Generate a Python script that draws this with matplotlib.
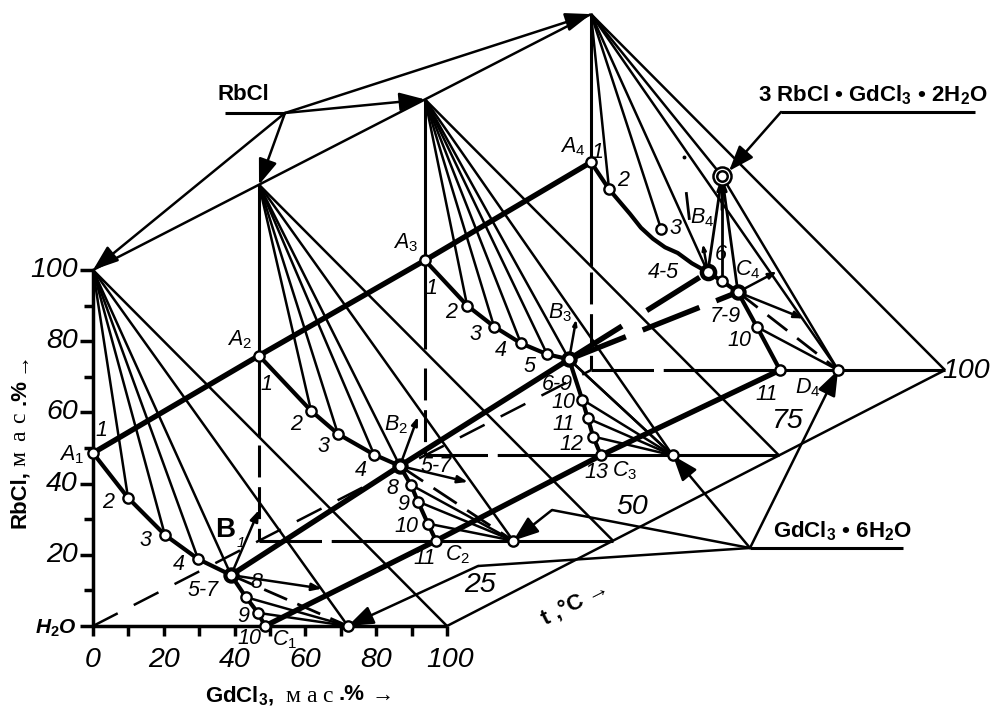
import matplotlib
matplotlib.use("Agg")
import matplotlib.pyplot as plt

plt.rcParams['font.family'] = ['Liberation Sans', 'DejaVu Sans']
plt.rcParams['mathtext.fontset'] = 'custom'
plt.rcParams['mathtext.rm'] = 'Liberation Sans'
plt.rcParams['mathtext.it'] = 'Liberation Sans:italic'
plt.rcParams['mathtext.bf'] = 'Liberation Sans:bold'
plt.rcParams['lines.scale_dashes'] = False

# ---- data: composition (GdCl3 %, RbCl %) per isotherm ----
iso_levels = [0, 1, 2, 3]
g1 = [0, 9.9, 20.3, 29.7, 39.0, 43.2, 46.6, 48.6]
r1 = [48.6, 36.0, 25.6, 18.8, 14.3, 8.1, 3.7, 0]
g2 = [0, 14.7, 22.3, 32.5, 39.8, 42.9, 44.9, 47.7, 50.0]
r2 = [52.0, 36.5, 30.0, 24.2, 21.0, 15.7, 11.0, 4.8, 0]
g3 = [0, 11.9, 19.5, 27.1, 34.5, 40.7, 44.4, 46.0, 47.5, 49.7]
r3 = [54.8, 42.1, 36.2, 31.5, 28.4, 27.0, 15.7, 10.4, 5.3, 0]
g4_curve = [0, 5.1, 11.0, 14.1, 17.5, 20.9, 24.5, 28.5, 33.0, 37.0, 41.5, 46.9, 53.4]
r4_curve = [58.4, 50.8, 43.9, 40.0, 36.9, 34.5, 32.9, 30.0, 27.5, 25.0, 21.9, 12.1, 0]
g4_marks = [0, 5.1, 19.8, 33.0, 37.0, 41.5, 46.9, 53.4]
r4_marks = [58.4, 50.8, 39.6, 27.5, 25.0, 21.9, 12.1, 0]
gd_salt = [72.0, 71.8, 70.0, 69.8]
double_salt_g, double_salt_r = 37.0, 54.5
gd_ticks = [0, 10, 20, 30, 40, 50, 60, 70, 80, 90, 100]
rb_ticks = [0, 10, 20, 30, 40, 50, 60, 70, 80, 90, 100]
gd_labels = ['0', '20', '40', '60', '80', '100']
rb_labels = ['20', '40', '60', '80', '100']
temp_labels = ['25', '50', '75']
# index of eutectic point B on each curve and of the tie-line groups
apex_ties = [[1, 2, 3, 4], [1, 2, 3, 4], [1, 2, 3, 4, 5]]
salt_ties = [[5, 6], [5, 6, 7], [5, 6, 7, 8]]
b_index = [4, 4, 5]
solid_until_r = [29.0, 29.8, 29.2]
dash_from_r = [27.0, 24.5, 27.5]


def P(g, r, k=0):
    return 93 + 3.54 * g + 166 * k, 626 - 3.56 * r - 85.3 * k


fig = plt.figure(figsize=(9.92, 7.09), dpi=100)
ax = fig.add_axes([0, 0, 1, 1])
ax.set_xlim(0, 992)
ax.set_ylim(709, 0)
ax.axis('off')

THIN, MID, THICK = 1.8, 3.0, 3.9


def line(a, b, lw=THIN, z=2, **kw):
    kw.setdefault('solid_capstyle', 'butt')
    kw.setdefault('dash_capstyle', 'butt')
    ax.plot([a[0], b[0]], [a[1], b[1]], color='k', lw=lw, zorder=z, **kw)


def arrow(a, b, size=22, lw=THIN, z=3):
    ax.annotate('', xy=b, xytext=a, zorder=z,
                arrowprops=dict(arrowstyle='-|>,head_length=0.6,head_width=0.22',
                                mutation_scale=size, lw=lw, color='k',
                                shrinkA=0, shrinkB=0))


def tx(x, y, s, size=15.5, style='italic', weight='normal', **kw):
    kw.setdefault('ha', 'center')
    kw.setdefault('va', 'center')
    ax.text(x, y, s, fontsize=size, style=style, weight=weight, zorder=8, **kw)


curves = [(g1, r1), (g2, r2), (g3, r3)]
DASH_H = (0, (45, 7, 80, 7))
DASH_V = (0, (23, 7))

# frames per isotherm
for k in iso_levels:
    apex, o, end = P(0, 100, k), P(0, 0, k), P(100, 0, k)
    salt = P(gd_salt[k], 0, k)
    line(apex, end)
    line(apex, salt)
    if k == 0:
        line(apex, o, lw=2.5)
        line(o, end, lw=2.5)
    else:
        i = k - 1
        line(apex, P(0, solid_until_r[i], k), lw=2.2)
        line(P(0, dash_from_r[i], k), o, lw=2.2, ls=DASH_V)
        right = [g2, g3, g4_curve][i][-1]
        line(o, P(right, 0, k), lw=2.2, ls=DASH_H)
        line(P(right, 0, k), end, lw=2.2)

# top line through the RbCl apexes, base line and temperature axis
line(P(0, 100, 3), P(0, 100, 0))
line(P(100, 0, 0), P(100, 0, 3))
line(P(0, 0, 0), P(0, 0, 3), lw=1.8, ls=(0, (20, 13)), z=1)

# tie lines, isotherms 1-3
for k, (g, r) in enumerate(curves):
    apex, salt = P(0, 100, k), P(gd_salt[k], 0, k)
    for i in apex_ties[k]:
        line(apex, P(g[i], r[i], k))
    for i in salt_ties[k]:
        line(P(g[i], r[i], k), salt)
    ax.plot(*zip(*[P(a, b, k) for a, b in zip(g, r)]), color='k', lw=MID,
            zorder=4, solid_joinstyle='round')

# eutectic links
line(P(g1[4], r1[4], 0), P(gd_salt[0], 0, 0), lw=2.0, ls=(0, (18, 8)))
line(P(g2[4], r2[4], 1), P(gd_salt[1], 0, 1), lw=2.0, ls=(0, (20, 9)))
line(P(g3[5], r3[5], 2), P(gd_salt[2], 0, 2))
arrow(P(g1[4], r1[4], 0), P(64.7, 10.5, 0), size=10, lw=1.8)
arrow(P(g2[4], r2[4], 1), P(59, 16.5, 1), size=10, lw=1.8)

# isotherm 4
apex4 = P(0, 100, 3)
salt4 = P(gd_salt[3], 0, 3)
ds = P(double_salt_g, double_salt_r, 3)
for i in [1, 2, 3]:
    line(apex4, P(g4_marks[i], r4_marks[i], 3))
line(apex4, ds)
line(ds, salt4)
for i in [3, 4, 5]:
    line(ds, P(g4_marks[i], r4_marks[i], 3), lw=2.0)
arrow(P(37, 45, 3), ds, size=14, lw=2.0)
line(P(g4_marks[6], r4_marks[6], 3), salt4)
arrow(P(g4_marks[5], r4_marks[5], 3), P(60, 14.5, 3), size=9, lw=1.8)
line(P(g4_marks[5], r4_marks[5], 3), salt4, lw=2.0, ls=(0, (18, 9)))
ax.plot(*zip(*[P(a, b, 3) for a, b in zip(g4_curve, r4_curve)]), color='k', lw=MID, zorder=4)
arrow(P(g4_marks[5], r4_marks[5], 3), P(52.5, 27.7, 3), size=8, lw=1.8)

# short arrows from B points (liquidus direction)
arrow(P(g1[4], r1[4], 0), P(46.9, 32.6, 0), size=11, lw=1.8)
arrow(P(g2[4], r2[4], 1), P(44.9, 34.8, 1), size=8, lw=1.8)
arrow(P(g3[5], r3[5], 2), P(42.7, 38.2, 2), size=5, lw=1.8)
arrow(P(g4_marks[3], r4_marks[3], 3), P(31.6, 35.4, 3), size=5, lw=1.8)
line(P(26.9, 50.0, 3), P(27.8, 42.2, 3), lw=2.0)
ax.plot(*P(26.3, 60.0, 3), 'o', color='k', ms=1.8, zorder=3)

# thick monovariant lines
Afour = [P(g1[0], r1[0], 0), P(g2[0], r2[0], 1), P(g3[0], r3[0], 2), P(g4_curve[0], r4_curve[0], 3)]
ax.plot(*zip(*Afour), color='k', lw=THICK, zorder=5, solid_capstyle='butt')
B3 = P(g3[5], r3[5], 2)
ax.plot(*zip(*[P(g1[4], r1[4], 0), P(g2[4], r2[4], 1), B3]), color='k', lw=THICK, zorder=5)
Cpts = [P(g1[7], r1[7], 0), P(g2[8], r2[8], 1), P(g3[9], r3[9], 2), P(g4_curve[-1], r4_curve[-1], 3)]
ax.plot(*zip(*Cpts), color='k', lw=THICK, zorder=5)
line(B3, P(g4_marks[3], r4_marks[3], 3), lw=THICK, z=5, ls=(0, (45, 21)))
line(B3, P(g4_marks[5], r4_marks[5], 3), lw=THICK, z=5, ls=(0, (44, 13)))

# markers
mk = dict(marker='o', mfc='w', mec='k', ls='none', zorder=7)
for k, (g, r) in enumerate(curves):
    pts = [P(a, b, k) for a, b in zip(g, r)]
    ax.plot(*zip(*pts), ms=7.4, mew=1.7, **mk)
    ax.plot(*pts[b_index[k]], ms=8.8, mew=3.0, **mk)
    ax.plot(*P(gd_salt[k], 0, k), ms=7.4, mew=1.7, **mk)
pts4 = [P(a, b, 3) for a, b in zip(g4_marks, r4_marks)]
ax.plot(*zip(*pts4), ms=7.4, mew=1.7, **mk)
ax.plot(*pts4[3], ms=9.5, mew=3.2, **mk)
ax.plot(*pts4[5], ms=8.8, mew=3.0, **mk)
ax.plot(*salt4, ms=7.4, mew=1.7, **mk)
ax.plot(*ds, ms=13, mew=1.8, **mk)
ax.plot(*ds, ms=7.5, mew=1.8, **mk)

# axis ticks and labels
for v in rb_ticks:
    x, y = P(0, v)
    line((x - (13 if v % 20 == 0 else 9), y), (x, y), lw=2.5)
for v in gd_ticks:
    x, y = P(v, 0)
    line((x, y), (x, y + 10), lw=2.5)
for s in rb_labels:
    x, y = P(0, float(s))
    tx(78, y, s, size=20.5, ha='right')
for s in gd_labels:
    x, y = P(float(s), 0)
    tx(x + (3 if s == '100' else 0), 660, s, size=20.5)
tx(56, 628, r'H$_{\mathbf{2}}$O', size=15, weight='bold')

# pointers to components
hub = (285, 113)
line((225, 113), hub, lw=2.2)
for k in iso_levels:
    arrow(hub, P(0, 100, k), size=26)
hub2 = (750, 548)
line(hub2, (903, 548), lw=2.2)
line(hub2, (478, 566))
arrow((478, 566), P(gd_salt[0], 0, 0), size=26)
line(hub2, (552, 510))
arrow((552, 510), P(gd_salt[1], 0, 1), size=26)
arrow(hub2, P(gd_salt[2], 0, 2), size=26)
arrow(hub2, P(gd_salt[3], 0, 3), size=26)
line((975, 112), (781, 112), lw=2.2)
arrow((781, 112), (729, 171), size=26)

# point labels
labels = [
    (72, 455, r'$A_{\mathit{1}}$'), (101, 430, '1'), (108, 503, '2'), (145, 541, '3'), (179, 565, '4'),
    (203, 590, '5-7'), (256, 582, '8'), (243, 616, '9'), (249, 639, '10'), (285, 640, r'$C_{\mathit{1}}$'),
    (240, 340, r'$A_{\mathit{2}}$'), (266, 385, '1'), (296, 425, '2'), (324, 447, '3'), (361, 470, '4'),
    (396, 425, r'$B_{\mathit{2}}$'), (436, 466, '5-7'), (392, 488, '8'), (403, 505, '9'), (406, 526, '10'),
    (425, 558, '11'), (458, 555, r'$C_{\mathit{2}}$'),
    (406, 243, r'$A_{\mathit{3}}$'), (431, 289, '1'), (451, 312, '2'), (475, 335, '3'), (501, 350, '4'),
    (530, 366, '5'), (560, 313, r'$B_{\mathit{3}}$'), (557, 384, '6-9'), (563, 403, '10'), (564, 424, '11'),
    (571, 444, '12'), (596, 473, '13'), (625, 471, r'$C_{\mathit{3}}$'),
    (573, 147, r'$A_{\mathit{4}}$'), (597, 152, '1'), (623, 181, '2'), (675, 229, '3'), (663, 272, '4-5'),
    (702, 218, r'$B_{\mathit{4}}$'), (721, 254, '6'), (748, 270, r'$C_{\mathit{4}}$'), (725, 317, '7-9'),
    (739, 340, '10'), (767, 395, '11'), (808, 388, r'$D_{\mathit{4}}$'),
]
for x, y, s in labels:
    tx(x, y, s)
tx(225, 530, 'B', size=20, style='normal', weight='bold')
tx(241, 543, '1', size=11)
tx(966, 371, '100', size=20.5)
for (x, y), s in zip([(480, 585), (632, 507), (787, 421)], temp_labels):
    tx(x, y, s, size=20.5)

# titles of components
tx(243, 94, 'RbCl', size=16, style='normal', weight='bold')
tx(873, 95, r'3 RbCl • GdCl$_{\mathbf{3}}$ • 2H$_{\mathbf{2}}$O', size=16, style='normal', weight='bold')
tx(843, 531, r'GdCl$_{\mathbf{3}}$ • 6H$_{\mathbf{2}}$O', size=16, style='normal', weight='bold')
tx(575, 603, 't ,°C →', size=16, style='normal', weight='bold', rotation=27)

# axis titles
tx(240, 696, r'GdCl$_{\mathbf{3}}$,', size=16, style='normal', weight='bold')
tx(293, 696, 'м', size=17, style='normal', family='Liberation Serif')
tx(311, 696, 'а', size=17, style='normal', family='Liberation Serif')
tx(327, 696, 'с', size=17, style='normal', family='Liberation Serif')
tx(352, 695, '.%', size=16, style='normal', weight='bold')
tx(383, 695, '→', size=16, style='normal', weight='bold')
tx(20, 499, 'RbCl,', size=16, style='normal', weight='bold', rotation=90)
tx(20, 458, 'м', size=17, style='normal', family='Liberation Serif', rotation=90)
tx(20, 436, 'а', size=17, style='normal', family='Liberation Serif', rotation=90)
tx(20, 418, 'с', size=17, style='normal', family='Liberation Serif', rotation=90)
tx(20, 392, '.%', size=16, style='normal', weight='bold', rotation=90)
tx(20, 362, '→', size=16, style='normal', weight='bold', rotation=90)

fig.savefig('out.png', dpi=100)
